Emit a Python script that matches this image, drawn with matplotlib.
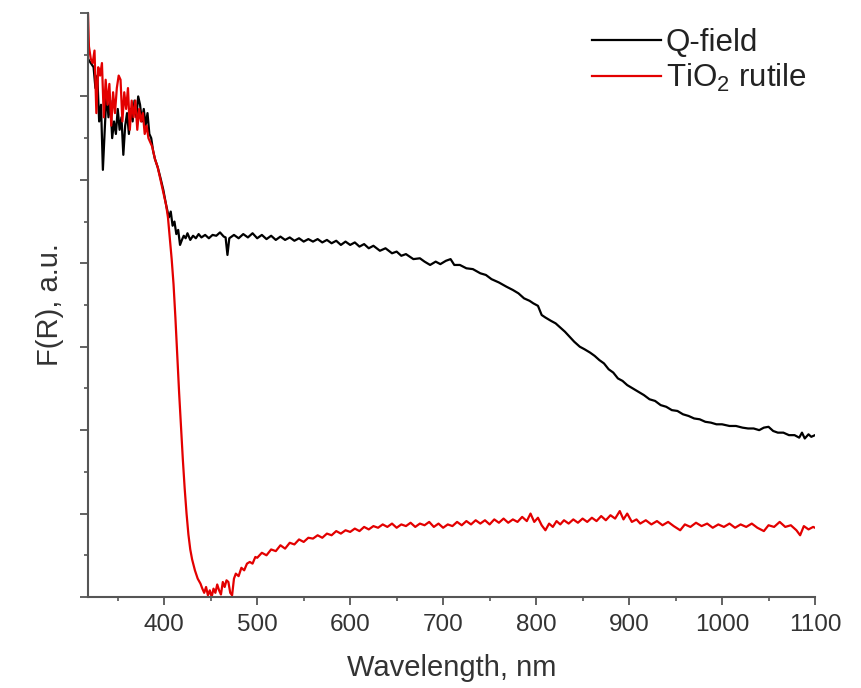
# Diffuse reflectance spectra: Q-field sample vs TiO2 rutile
import numpy as np
import matplotlib
matplotlib.use('Agg')
import matplotlib.pyplot as plt
from matplotlib.ticker import MultipleLocator, NullFormatter

plt.rcParams['font.family'] = ['Liberation Sans', 'DejaVu Sans']
plt.rcParams['mathtext.fontset'] = 'custom'
plt.rcParams['mathtext.rm'] = 'Liberation Sans'
plt.rcParams['mathtext.default'] = 'regular'

# Q-field spectrum (wavelength nm, F(R) a.u.)
qfield_wl = [318, 321, 324, 326, 328, 330, 332, 334, 336, 338, 340, 342, 344, 346,
             348, 350, 352, 354, 356, 358, 360, 362, 364, 366, 368, 370, 372, 374,
             376, 378, 380, 382, 384, 386, 388, 390, 393, 396, 399, 402, 405, 407,
             409, 411, 413, 415, 417, 419, 421, 423, 425, 428, 431, 434, 437, 440,
             444, 448, 452, 456, 460, 464, 466, 468, 470, 475, 480, 485, 490, 495,
             500, 505, 510, 515, 520, 525, 530, 535, 540, 545, 550, 555, 560, 565,
             570, 575, 580, 585, 590, 595, 600, 605, 610, 615, 620, 625, 632, 638,
             645, 650, 655, 660, 668, 675, 680, 686, 692, 697, 703, 708, 712, 718,
             725, 732, 740, 746, 752, 760, 768, 775, 781, 787, 793, 797, 802, 806,
             810, 816, 821, 826, 831, 836, 841, 847, 852, 858, 863, 868, 873, 878,
             883, 888, 893, 898, 904, 910, 916, 922, 928, 934, 940, 946, 952, 958,
             964, 970, 976, 982, 988, 994, 1000, 1008, 1015, 1022, 1028, 1034, 1040,
             1045, 1050, 1055, 1060, 1066, 1072, 1078, 1083, 1086, 1089, 1093, 1096,
             1100]
qfield_val = [6.45, 6.40, 6.35, 6.10, 6.25, 5.70, 5.90, 5.12, 5.60, 6.05, 5.75, 5.95,
              5.50, 5.70, 5.55, 5.85, 5.60, 5.75, 5.30, 5.65, 5.80, 5.55, 5.85, 5.70,
              5.95, 5.75, 6.00, 5.90, 5.70, 5.85, 5.65, 5.80, 5.55, 5.50, 5.35, 5.25,
              5.15, 5.02, 4.88, 4.70, 4.55, 4.62, 4.45, 4.50, 4.35, 4.40, 4.22, 4.28,
              4.33, 4.30, 4.36, 4.28, 4.33, 4.30, 4.35, 4.31, 4.34, 4.30, 4.34, 4.33,
              4.37, 4.32, 4.31, 4.10, 4.30, 4.34, 4.30, 4.35, 4.31, 4.36,
              4.30, 4.34, 4.29, 4.33, 4.28, 4.32, 4.28, 4.31, 4.27, 4.30, 4.26, 4.29,
              4.26, 4.29, 4.25, 4.28, 4.24, 4.27, 4.22, 4.26, 4.22, 4.25, 4.20, 4.23,
              4.18, 4.21, 4.15, 4.18, 4.12, 4.14, 4.09, 4.11, 4.05, 4.06, 4.02, 3.98,
              4.02, 3.99, 4.03, 4.05, 3.98, 3.98, 3.94, 3.93, 3.88, 3.86, 3.81, 3.77,
              3.72, 3.68, 3.64, 3.58, 3.55, 3.52, 3.49, 3.38, 3.35, 3.31, 3.28, 3.23,
              3.18, 3.12, 3.06, 3.00, 2.97, 2.93, 2.89, 2.84, 2.80, 2.73, 2.69, 2.62,
              2.59, 2.54, 2.50, 2.46, 2.42, 2.37, 2.35, 2.30, 2.28, 2.24, 2.23, 2.19,
              2.17, 2.14, 2.13, 2.10, 2.09, 2.07, 2.07, 2.05, 2.05, 2.03, 2.02, 2.02,
              2.00, 2.03, 2.04, 1.99, 1.97, 1.97, 1.94, 1.94, 1.91, 1.97, 1.90, 1.95,
              1.92, 1.94]

# TiO2 rutile spectrum
rutile_wl = [318, 319, 321, 323, 325, 327, 329, 331, 333, 335, 337, 339, 341, 343,
             345, 347, 349, 351, 353, 355, 357, 359, 361, 363, 365, 367, 369, 371,
             373, 375, 377, 379, 381, 383, 385, 387, 390, 393, 396, 399, 402, 404,
             406, 408, 410, 412, 414, 416, 418, 420, 422, 424, 426, 428, 430, 433,
             436, 439, 441, 443, 445, 447, 449, 451, 453, 455, 457, 459, 461, 463,
             465, 467, 469, 471, 473, 475, 477, 480, 483, 486, 489, 492, 495, 498,
             500, 505, 510, 515, 520, 525, 530, 535, 540, 545, 550, 555, 560, 565,
             570, 575, 580, 585, 590, 595, 600, 605, 610, 615, 620, 625, 630, 635,
             640, 645, 650, 655, 660, 665, 670, 675, 680, 685, 690, 695, 700, 705,
             710, 715, 720, 725, 730, 735, 740, 745, 750, 755, 760, 765, 770, 775,
             780, 785, 790, 794, 798, 802, 806, 810, 814, 818, 822, 826, 830, 835,
             840, 845, 850, 855, 860, 865, 870, 875, 880, 885, 890, 894, 898, 903,
             908, 912, 918, 924, 930, 936, 942, 948, 955, 960, 966, 972, 978, 984,
             990, 996, 1002, 1008, 1014, 1020, 1026, 1032, 1038, 1045, 1050, 1056,
             1062, 1068, 1074, 1080, 1084, 1088, 1093, 1098, 1100]
rutile_val = [7.00, 6.60, 6.45, 6.40, 6.55, 5.80, 6.35, 6.25, 6.40, 5.75, 6.20, 5.90,
              6.15, 5.65, 6.05, 5.80, 6.10, 6.25, 6.20, 5.70, 6.05, 5.85, 6.10, 5.60,
              5.95, 5.75, 5.95, 5.60, 5.85, 5.70, 5.80, 5.55, 5.65, 5.50, 5.45, 5.40,
              5.25, 5.15, 5.00, 4.85, 4.70, 4.55, 4.30, 4.05, 3.75, 3.35, 2.90, 2.45,
              2.05, 1.65, 1.30, 1.00, 0.75, 0.57, 0.45, 0.32, 0.22, 0.16, 0.10, 0.05,
              0.12, 0.02, 0.08, 0.00, 0.10, 0.05, 0.15, 0.08, 0.03, 0.18, 0.12, 0.20,
              0.18, 0.05, 0.02, 0.22, 0.28, 0.25, 0.35, 0.32, 0.40, 0.42, 0.40, 0.48,
              0.47, 0.53, 0.50, 0.57, 0.55, 0.62, 0.58, 0.65, 0.63, 0.69, 0.66, 0.71,
              0.70, 0.74, 0.71, 0.76, 0.74, 0.79, 0.76, 0.80, 0.78, 0.82, 0.79, 0.84,
              0.81, 0.85, 0.83, 0.87, 0.84, 0.88, 0.83, 0.87, 0.85, 0.89, 0.84, 0.88,
              0.86, 0.90, 0.84, 0.88, 0.83, 0.87, 0.85, 0.90, 0.86, 0.91, 0.87, 0.92,
              0.88, 0.92, 0.87, 0.93, 0.89, 0.94, 0.89, 0.93, 0.90, 0.96, 0.91, 1.00,
              0.90, 0.95, 0.86, 0.80, 0.88, 0.84, 0.91, 0.87, 0.92, 0.88, 0.93, 0.89,
              0.94, 0.90, 0.95, 0.91, 0.97, 0.92, 0.98, 0.94, 1.03, 0.93, 1.00, 0.90,
              0.93, 0.88, 0.92, 0.87, 0.91, 0.86, 0.90, 0.85, 0.80, 0.87, 0.84, 0.89,
              0.85, 0.88, 0.83, 0.87, 0.84, 0.88, 0.83, 0.87, 0.84, 0.88, 0.83, 0.79,
              0.86, 0.84, 0.90, 0.84, 0.86, 0.80, 0.74, 0.85, 0.81, 0.84, 0.83]

fig = plt.figure(figsize=(8.61, 6.88), dpi=100)
ax = fig.add_axes([88 / 861, 1 - 597 / 688, (815 - 88) / 861, (597 - 13) / 688])

ax.plot(qfield_wl, qfield_val, color='black', linewidth=1.6, label='Q-field')
ax.plot(rutile_wl, rutile_val, color='#e30000', linewidth=1.6, label='TiO$_2$ rutile')

ax.set_xlim(318, 1100)
ax.set_ylim(0, 7)

spine_col = '#555555'
for side in ['top', 'right']:
    ax.spines[side].set_visible(False)
for side in ['left', 'bottom']:
    ax.spines[side].set_color(spine_col)
    ax.spines[side].set_linewidth(1.5)

ax.xaxis.set_major_locator(MultipleLocator(100))
ax.xaxis.set_minor_locator(MultipleLocator(50))
ax.yaxis.set_major_locator(MultipleLocator(1))
ax.yaxis.set_minor_locator(MultipleLocator(0.5))
ax.yaxis.set_major_formatter(NullFormatter())

ax.tick_params(axis='both', which='major', direction='out', length=6, width=1.3,
               color=spine_col, labelsize=17.5, labelcolor='#333333', pad=6)
ax.tick_params(axis='both', which='minor', direction='out', length=3, width=1.2,
               color=spine_col)

ax.set_xlabel('Wavelength, nm', fontsize=21, color='#333333', labelpad=13)
ax.set_ylabel('F(R), a.u.', fontsize=21, color='#333333', labelpad=5)

leg = ax.legend(loc='upper left', bbox_to_anchor=(592 / 861, 1 - 28 / 688),
                bbox_transform=fig.transFigure, frameon=False, fontsize=22.5,
                handlelength=2.2, handletextpad=0.16, labelspacing=0.12,
                borderpad=0, borderaxespad=0)
for t in leg.get_texts():
    t.set_color('#222222')

fig.savefig('out.png', dpi=100)
